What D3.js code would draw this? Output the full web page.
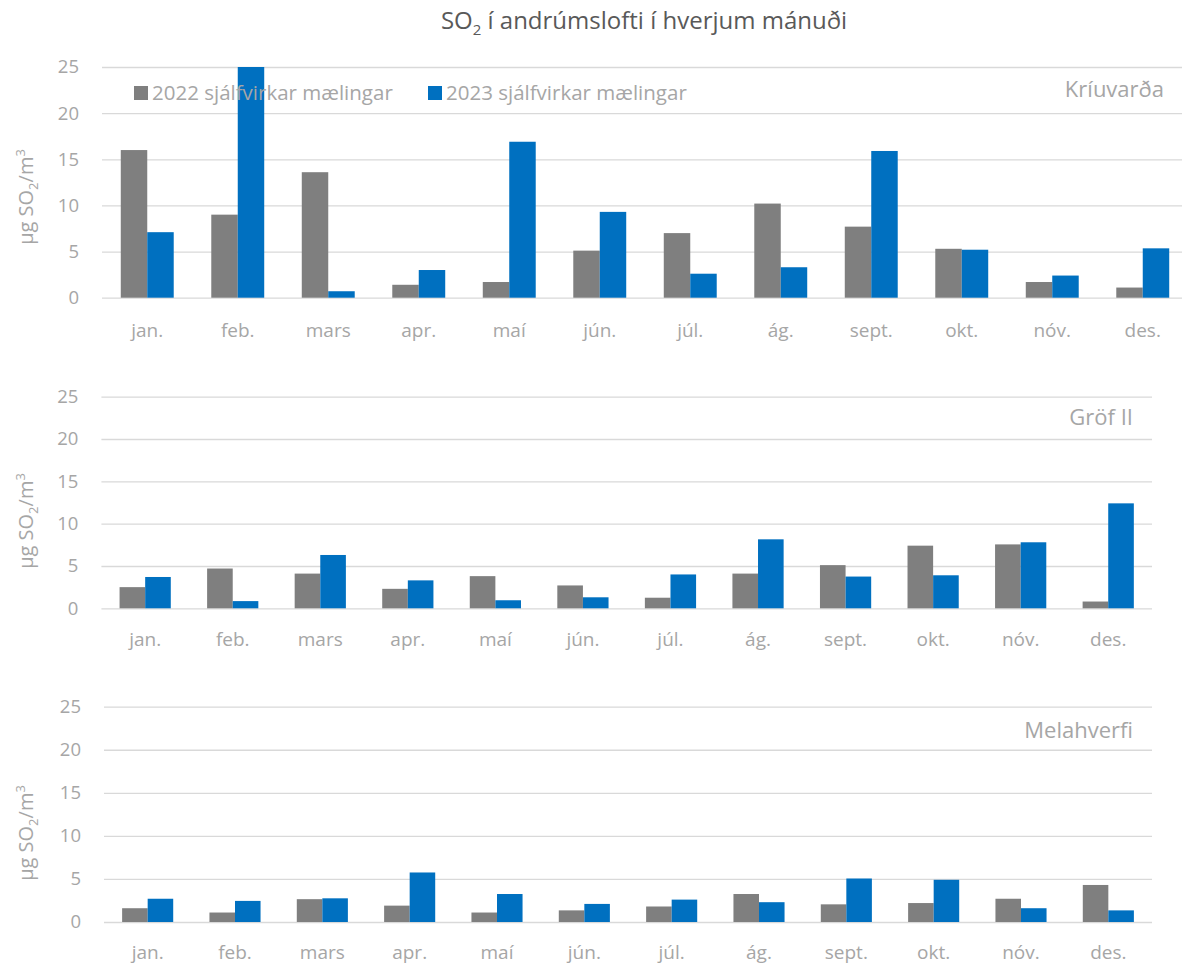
<!DOCTYPE html>
<html>
<head>
<meta charset="utf-8">
<script src="https://cdn.jsdelivr.net/npm/d3@7"></script>
<style>
  body { margin: 0; background: #fff; }
  svg { display: block; font-family: "Open Sans", sans-serif; }
</style>
</head>
<body>
<div id="chart"></div>
<script>
// Data
var months = ["jan.", "feb.", "mars", "apr.", "maí", "jún.", "júl.", "ág.", "sept.", "okt.", "nóv.", "des."];
var series = ["2022 sjálfvirkar mælingar", "2023 sjálfvirkar mælingar"];
var yTicks = [0, 5, 10, 15, 20, 25];
var stations = ["Kríuvarða", "Gröf II", "Melahverfi"];

var kriuvarda2022 = [16.0, 9.0, 13.6, 1.4, 1.7, 5.1, 7.0, 10.2, 7.7, 5.3, 1.7, 1.1];
var kriuvarda2023 = [7.1, 25.0, 0.7, 3.0, 16.9, 9.3, 2.6, 3.3, 15.9, 5.2, 2.4, 5.35];
var grof2022 = [2.5, 4.7, 4.1, 2.3, 3.8, 2.7, 1.25, 4.1, 5.1, 7.4, 7.55, 0.8];
var grof2023 = [3.7, 0.85, 6.3, 3.3, 0.95, 1.3, 4.0, 8.15, 3.75, 3.9, 7.8, 12.4];
var mela2022 = [1.6, 1.1, 2.65, 1.9, 1.1, 1.35, 1.8, 3.25, 2.05, 2.2, 2.7, 4.3];
var mela2023 = [2.7, 2.45, 2.75, 5.75, 3.25, 2.1, 2.6, 2.3, 5.05, 4.9, 1.6, 1.35];

var stationData = [
  [kriuvarda2022, kriuvarda2023],
  [grof2022, grof2023],
  [mela2022, mela2023]
];

// Layout
var W = 1182, H = 967;
var colors = ["#7f7f7f", "#0070c0"];
var panels = [
  { left: 102, right: 1188, top: 67, bottom: 297.7, labelX: 1164, labelY: 97, titleY: 197, monthY: 337 },
  { left: 101.4, right: 1152, top: 396.7, bottom: 608.3, labelX: 1133, labelY: 425, titleY: 521, monthY: 646 },
  { left: 104, right: 1152, top: 706.7, bottom: 922, labelX: 1133, labelY: 738, titleY: 833, monthY: 959 }
];

var svg = d3.select("#chart")
            .append("svg")
            .attr("width", W)
            .attr("height", H);

// Title
var title = svg.append("text")
               .attr("x", 644)
               .attr("y", 29)
               .attr("text-anchor", "middle")
               .style("font-size", "24px")
               .style("fill", "#595959");
title.append("tspan").text("SO");
title.append("tspan").attr("dy", 6).style("font-size", "15px").text("2");
title.append("tspan").attr("dy", -6).text(" í andrúmslofti í hverjum mánuði");

panels.forEach(function(p, i) {
  var g = svg.append("g");

  var y = d3.scaleLinear().domain([0, 25]).range([p.bottom, p.top]);
  var x0 = d3.scaleBand().domain(months).range([p.left, p.right])
             .paddingInner(0.415).paddingOuter(0.2075);
  var x1 = d3.scaleBand().domain([0, 1]).range([0, x0.bandwidth()]);

  // gridlines + y labels
  var yAxis = g.append("g")
               .attr("transform", "translate(" + p.left + ",0)")
               .call(d3.axisLeft(y).tickValues(yTicks).tickSize(-(p.right - p.left)).tickPadding(23));
  yAxis.select(".domain").remove();
  yAxis.selectAll("line").attr("stroke", "#d9d9d9").attr("stroke-width", 1.3);
  yAxis.selectAll("text").style("font-size", "18.5px").style("fill", "#a6a6a6").style("font-family", "Open Sans, sans-serif");

  // bars
  var data = stationData[i];
  g.selectAll("g.month")
   .data(months)
   .enter()
      .append("g")
      .attr("transform", function(d) { return "translate(" + x0(d) + ",0)"; })
      .selectAll("rect")
      .data(function(d, m) { return [0, 1].map(function(s) { return { s: s, v: data[s][m] }; }); })
      .enter()
         .append("rect")
         .attr("x", function(d) { return x1(d.s); })
         .attr("width", x1.bandwidth())
         .attr("y", function(d) { return y(d.v); })
         .attr("height", function(d) { return y(0) - y(d.v); })
         .style("fill", function(d) { return colors[d.s]; });

  // month labels
  g.selectAll("text.month")
   .data(months)
   .enter()
      .append("text")
      .attr("class", "month")
      .attr("x", function(d) { return x0(d) + x0.bandwidth() / 2; })
      .attr("y", p.monthY)
      .attr("text-anchor", "middle")
      .style("font-size", "19px")
      .style("fill", "#a6a6a6")
      .text(function(d) { return d; });

  // station name
  g.append("text")
   .attr("x", p.labelX)
   .attr("y", p.labelY)
   .attr("text-anchor", "end")
   .style("font-size", "22px")
   .style("fill", "#a6a6a6")
   .text(stations[i]);

  // y axis title
  var yt = g.append("text")
            .attr("transform", "translate(33," + p.titleY + ") rotate(-90)")
            .attr("text-anchor", "middle")
            .style("font-size", "20px")
            .style("fill", "#a6a6a6");
  yt.append("tspan").text("μg SO");
  yt.append("tspan").attr("dy", 5).style("font-size", "13px").text("2");
  yt.append("tspan").attr("dy", -5).text("/m");
  yt.append("tspan").attr("dy", -8).style("font-size", "13px").text("3");
});

// Legend (top panel)
var legend = svg.append("g");
var legendX = [134, 428];
series.forEach(function(name, s) {
  legend.append("rect")
        .attr("x", legendX[s])
        .attr("y", 86)
        .attr("width", 14)
        .attr("height", 14)
        .style("fill", colors[s]);
  legend.append("text")
        .attr("x", legendX[s] + 18)
        .attr("y", 100)
        .style("font-size", "20.5px")
        .style("fill", "#a6a6a6")
        .text(name);
});
</script>
</body>
</html>
